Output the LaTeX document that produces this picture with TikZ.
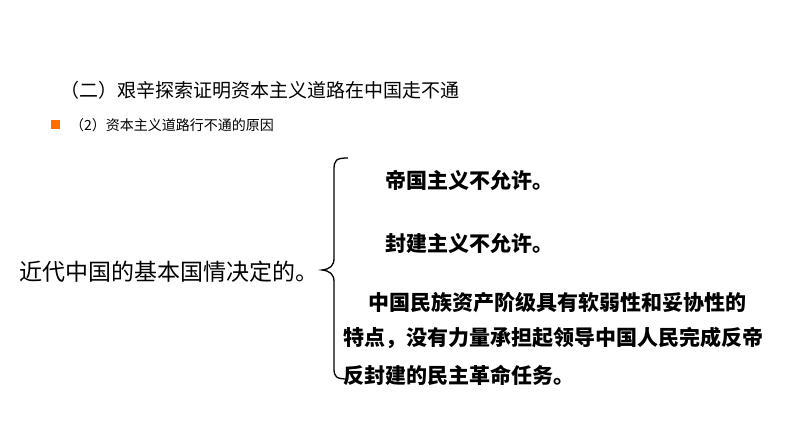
\documentclass[tikz,border=0pt]{standalone}
\usepackage{fontspec}
\setmainfont{Noto Sans CJK SC}
\begin{document}
\begin{tikzpicture}[x=1pt,y=-1pt,
  t/.style={anchor=west,inner sep=0pt},
  rb/.style={t,font=\fontsize{21}{21}\selectfont\bfseries}]
\useasboundingbox[fill=white] (0,0) rectangle (794,447);
\node[t,font=\fontsize{19}{19}\selectfont] (title) at (60,90) {（二）艰辛探索证明资本主义道路在中国走不通};
\fill[orange!85!red] (51,120) rectangle (60,129);
\node[t,font=\fontsize{14}{14}\selectfont] (sub) at (70,125) {（2）资本主义道路行不通的原因};
\node[t,font=\fontsize{23}{23}\selectfont] (left) at (19,272) {近代中国的基本国情决定的。};
\draw[line width=1.3pt] (348,158) .. controls (336,158) and (334,160) .. (334,170)
  -- (334,258) .. controls (334,266) and (330,269) .. (322,270)
  .. controls (330,271) and (334,274) .. (334,282) -- (334,368)
  .. controls (334,377) and (336,379) .. (348,379);
\node[rb] (a) at (385,180) {帝国主义不允许。};
\node[rb] (b) at (385,243) {封建主义不允许。};
\node[rb] (c1) at (368,303) {中国民族资产阶级具有软弱性和妥协性的};
\node[rb] (c2) at (343,338) {特点，没有力量承担起领导中国人民完成反帝};
\node[rb] (c3) at (343,375) {反封建的民主革命任务。};
\end{tikzpicture}
\end{document}
